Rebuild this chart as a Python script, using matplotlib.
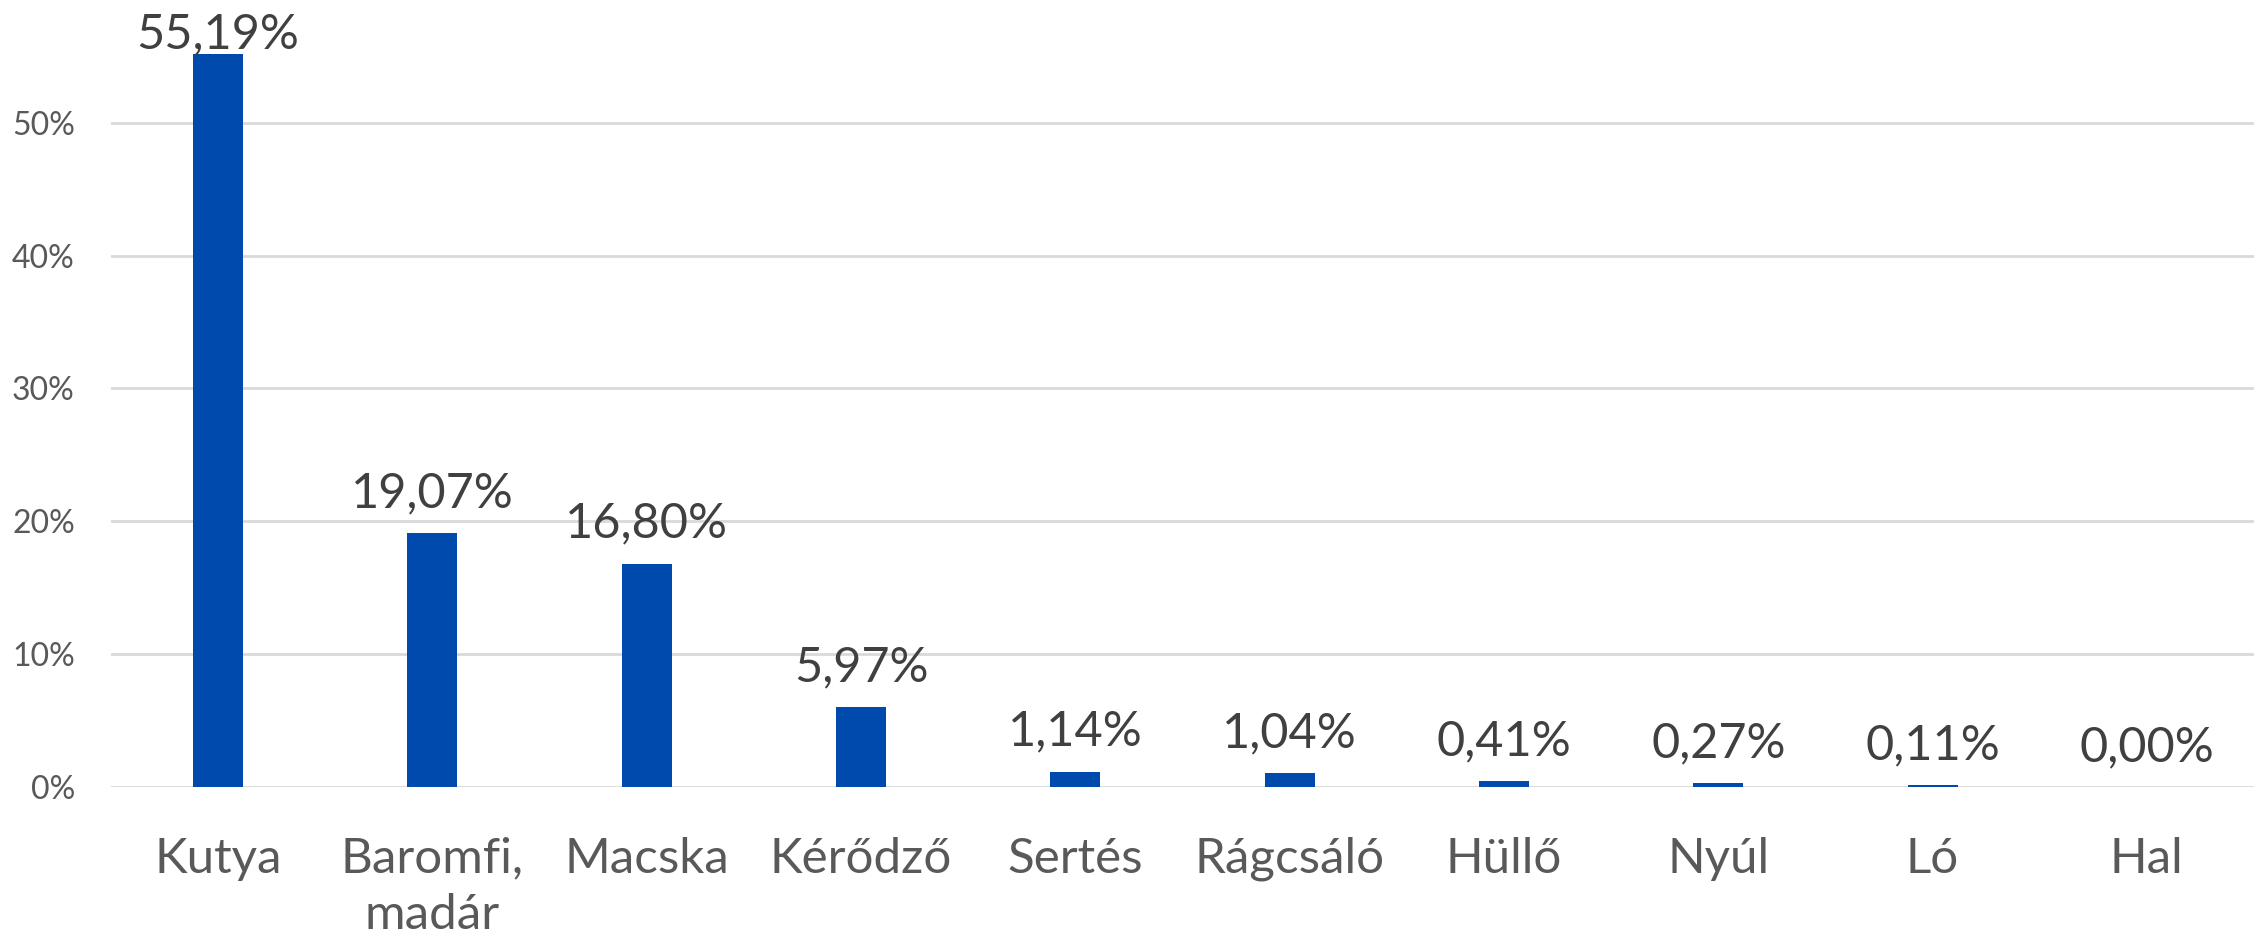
import numpy as np
import matplotlib.pyplot as plt
from matplotlib.ticker import FuncFormatter

categories = ["Kutya", "Baromfi,\nmadár", "Macska", "Kérődző", "Sertés",
              "Rágcsáló", "Hüllő", "Nyúl", "Ló", "Hal"]
values = [55.19, 19.07, 16.80, 5.97, 1.14, 1.04, 0.41, 0.27, 0.11, 0.00]
labels = ["55,19%", "19,07%", "16,80%", "5,97%", "1,14%",
          "1,04%", "0,41%", "0,27%", "0,11%", "0,00%"]
y_ticks = [0, 10, 20, 30, 40, 50]

plt.rcParams['font.family'] = ['Lato', 'DejaVu Sans']

fig = plt.figure(figsize=(22.59, 9.39), dpi=100)
ax = fig.add_axes([0.0491, 0.1622, 0.9487, 0.8378])

ymax = 59.24
x = np.arange(len(categories))
bars = ax.bar(x, values, width=0.233, color="#004AAD", zorder=3)

# label sits above the bar, pushed down when it would leave the chart area
px_per_unit = 0.8378 * 939 / ymax
for xi, v, lab in zip(x, values, labels):
    room = ((ymax - v) * px_per_unit - 48) / 1.389
    off = max(3, min(18.5, room))
    ax.annotate(lab, (xi, v), xytext=(0, off), textcoords="offset points",
                ha="center", va="baseline", fontsize=35, color="#404040")

ax.set_xlim(-0.5, len(categories) - 0.5)
ax.set_ylim(0, ymax)
ax.set_yticks(y_ticks)
ax.yaxis.set_major_formatter(FuncFormatter(lambda v, p: "%d%%" % v))
ax.set_xticks(x)
ax.set_xticklabels(categories, linespacing=1.35)

ax.grid(axis="y", color="#D9D9D9", linewidth=2, zorder=0)
ax.tick_params(axis="y", length=0, pad=26, labelsize=23, labelcolor="#595959")
ax.tick_params(axis="x", length=0, pad=36, labelsize=35.5, labelcolor="#595959")
for s in ax.spines.values():
    s.set_visible(False)

fig.savefig("out.png", dpi=100)
